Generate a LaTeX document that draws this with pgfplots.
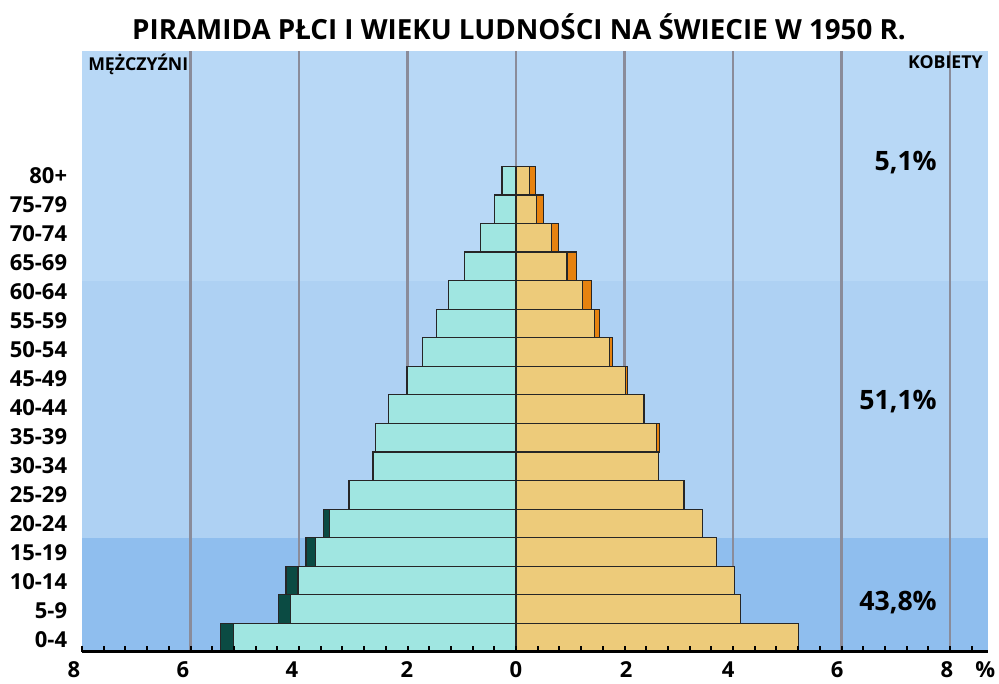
\documentclass[border=0pt]{standalone}
\usepackage{fontspec}
\setmainfont{Open Sans}
\usepackage{pgfplots}
\usepackage{pgfplotstable}
\pgfplotsset{compat=1.18}

\definecolor{bgtop}{HTML}{B8D8F6}
\definecolor{bgmid}{HTML}{AED1F3}
\definecolor{bgbot}{HTML}{8FBEEE}
\definecolor{gridc}{HTML}{8A8C9A}
\definecolor{mlight}{HTML}{A0E6E1}
\definecolor{mdark}{HTML}{0B4B43}
\definecolor{flight}{HTML}{EDCB7A}
\definecolor{fdark}{HTML}{E6820F}
\definecolor{edge}{HTML}{262626}

% mt/ft = total share, ml/fl = part common to both sexes (light colour)
\pgfplotstableread{
y    mt     ml     ft    fl
0.5  -5.44  -5.21  5.20  5.20
1.5  -4.38  -4.15  4.14  4.14
2.5  -4.24  -4.02  4.02  4.02
3.5  -3.87  -3.69  3.69  3.69
4.5  -3.55  -3.44  3.44  3.44
5.5  -3.09  -3.08  3.10  3.08
6.5  -2.65  -2.63  2.63  2.63
7.5  -2.59  -2.59  2.64  2.59
8.5  -2.35  -2.35  2.37  2.35
9.5  -2.01  -2.01  2.05  2.02
10.5 -1.72  -1.72  1.78  1.72
11.5 -1.46  -1.46  1.54  1.45
12.5 -1.24  -1.24  1.39  1.23
13.5 -0.95  -0.95  1.11  0.94
14.5 -0.66  -0.66  0.79  0.65
15.5 -0.39  -0.39  0.50  0.38
16.5 -0.26  -0.26  0.36  0.25
}\pyramid

\tikzset{xlab/.style={anchor=north,inner sep=0pt,yshift=-7pt,
  font=\bfseries\fontsize{16.5}{16.5}\selectfont}}

\begin{document}
\begin{tikzpicture}
\begin{axis}[width=679.5pt,height=451pt,scale only axis,
  xmin=-8,xmax=8.7,ymin=0,ymax=21.05,
  axis on top,clip=false,
  axis x line*=bottom,axis y line*=left,
  x axis line style={line width=2.25pt,black,-},
  y axis line style={draw=none},
  xtick={-8,-6,...,8},xticklabels={},
  minor xtick={-7.6,-7.2,...,8.5},
  tick align=inside,major tick length=4.5pt,minor tick length=4.5pt,
  xtick style={line width=1.5pt,black},
  ytick={0.42,1.44,2.45,3.47,4.48,5.5,6.52,7.53,8.55,9.56,10.58,11.59,12.61,13.63,14.64,15.66,16.67},
  yticklabels={0-4,5-9,10-14,15-19,20-24,25-29,30-34,35-39,40-44,45-49,50-54,55-59,60-64,65-69,70-74,75-79,80+},
  ytick style={draw=none},
  ticklabel style={font=\bfseries\fontsize{16.5}{16.5}\selectfont},
  yticklabel style={inner sep=0pt,xshift=-6.5pt},
  xbar,bar width=1,bar shift=0]

\fill[bgtop] (axis cs:-8,13) rectangle (axis cs:8.7,21.05);
\fill[bgmid] (axis cs:-8,4) rectangle (axis cs:8.7,13);
\fill[bgbot] (axis cs:-8,0) rectangle (axis cs:8.7,4);
\pgfplotsinvokeforeach{-6,-4,-2,0,2,4,6,8}{
  \draw[gridc,line width=2pt] (axis cs:#1,0) -- (axis cs:#1,21.05);
}

\addplot[fill=mdark,draw=edge,line width=0.9pt] table[x=mt,y=y]{\pyramid};
\addplot[fill=mlight,draw=edge,line width=0.9pt] table[x=ml,y=y]{\pyramid};
\addplot[fill=fdark,draw=edge,line width=0.9pt] table[x=ft,y=y]{\pyramid};
\addplot[fill=flight,draw=edge,line width=0.9pt] table[x=fl,y=y]{\pyramid};

\node[anchor=north west,inner sep=0pt,font=\bfseries\fontsize{13.3}{13.3}\selectfont]
  at (rel axis cs:0,1) [xshift=4.5pt,yshift=-2pt] {MĘŻCZYŹNI};
\node[anchor=north east,inner sep=0pt,font=\bfseries\fontsize{13.3}{13.3}\selectfont]
  at (rel axis cs:1,1) [xshift=-3.75pt,yshift=-3.3pt] {KOBIETY};
\node[anchor=east,inner sep=0pt,font=\bfseries\fontsize{20}{20}\selectfont]
  at (axis cs:7.76,17.13) {5,1\%};
\node[anchor=east,inner sep=0pt,font=\bfseries\fontsize{20}{20}\selectfont]
  at (axis cs:7.76,8.77) {51,1\%};
\node[anchor=east,inner sep=0pt,font=\bfseries\fontsize{20}{20}\selectfont]
  at (axis cs:7.76,1.72) {43,8\%};
% x tick labels, set a little off the ticks as in the original
\node[xlab] at (axis cs:-8.15,0) {8};
\node[xlab] at (axis cs:-6.14,0) {6};
\node[xlab] at (axis cs:-4.13,0) {4};
\node[xlab] at (axis cs:-2.01,0) {2};
\node[xlab] at (axis cs:0,0) {0};
\node[xlab] at (axis cs:2.03,0) {2};
\node[xlab] at (axis cs:3.91,0) {4};
\node[xlab] at (axis cs:5.92,0) {6};
\node[xlab] at (axis cs:7.94,0) {8};
\node[xlab] at (axis cs:8.65,0) {\%};
\node[font=\bfseries\fontsize{20.8}{20.8}\selectfont]
  at (rel axis cs:0,1) [xshift=327.75pt,yshift=17.8pt] {PIRAMIDA PŁCI I WIEKU LUDNOŚCI NA ŚWIECIE W 1950 R.};
\coordinate (sw) at (rel axis cs:0,0);
\end{axis}
\path (sw) ++(-61.5pt,-24pt) rectangle ++(749.25pt,513pt);
\end{tikzpicture}
\end{document}
